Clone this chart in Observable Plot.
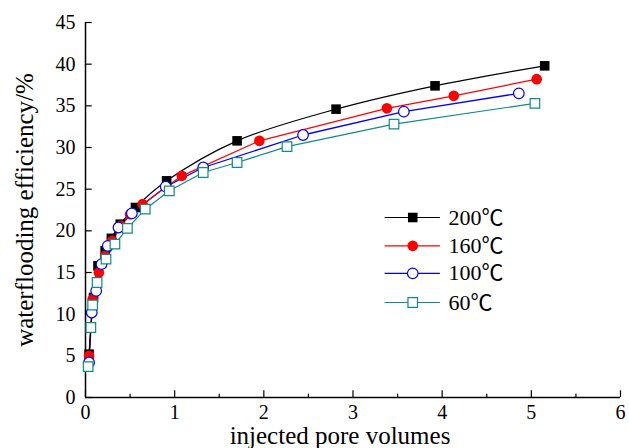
<!DOCTYPE html>
<html>
<head>
<meta charset="utf-8">
<script src="https://cdn.jsdelivr.net/npm/d3@7"></script>
<script src="https://cdn.jsdelivr.net/npm/@observablehq/plot@0.6"></script>
<style>
  html, body { margin: 0; padding: 0; background: #fff; }
  #chart { width: 629px; height: 448px; }
  #chart svg, #chart svg text { font-family: "Liberation Serif", "Times New Roman", "Noto Sans CJK SC", serif !important; }
</style>
</head>
<body>
<div id="chart"></div>
<script>
// ---- data ----
const seriesNames = ["200℃", "160℃", "100℃", "60℃"];
const seriesColors = ["#000000", "#ff0000", "#0000ff", "#108a8a"];

const pv200 = [0.04, 0.09, 0.14, 0.22, 0.29, 0.39, 0.56, 0.91, 1.70, 2.81, 3.92, 5.15];
const ef200 = [5.2, 12.0, 15.8, 17.6, 19.1, 20.8, 22.8, 26.0, 30.8, 34.6, 37.4, 39.8];

const pv160 = [0.04, 0.08, 0.15, 0.22, 0.30, 0.40, 0.50, 0.64, 1.08, 1.95, 3.38, 4.13, 5.06];
const ef160 = [5.0, 11.8, 15.0, 17.0, 18.8, 20.6, 22.0, 23.2, 26.6, 30.8, 34.7, 36.2, 38.2];

const pv100 = [0.04, 0.07, 0.12, 0.18, 0.25, 0.37, 0.52, 0.90, 1.32, 2.44, 3.57, 4.86];
const ef100 = [4.2, 10.2, 12.8, 16.0, 18.2, 20.4, 22.1, 25.3, 27.6, 31.5, 34.3, 36.5];

const pv60 = [0.03, 0.06, 0.08, 0.13, 0.23, 0.33, 0.47, 0.67, 0.94, 1.32, 1.70, 2.26, 3.46, 5.04];
const ef60 = [3.7, 8.4, 11.1, 13.8, 16.6, 18.4, 20.3, 22.6, 24.8, 27.0, 28.2, 30.1, 32.8, 35.3];

const xTicks = [0, 1, 2, 3, 4, 5, 6];
const xMinorTicks = [0.5, 1.5, 2.5, 3.5, 4.5, 5.5];
const yTicks = [0, 5, 10, 15, 20, 25, 30, 35, 40, 45];
const xLabel = "injected pore volumes";
const yLabel = "waterflooding efficiency/%";

// ---- build table ----
function rows(name, xs, ys) { return xs.map((x, i) => ({series: name, pv: x, eff: ys[i]})); }
const s200 = rows(seriesNames[0], pv200, ef200);
const s160 = rows(seriesNames[1], pv160, ef160);
const s100 = rows(seriesNames[2], pv100, ef100);
const s60  = rows(seriesNames[3], pv60, ef60);

// legend rows (placed in data space inside the frame)
const legendY = [21.6, 18.2, 14.9, 11.4];
const legend = seriesNames.map((n, i) => ({name: n, color: seriesColors[i], y: legendY[i], idx: i}));
const legX1 = 3.36, legX2 = 3.98, legXm = 3.67, legXt = 4.07;

const [c200, c160, c100, c60] = seriesColors;
const sq = 5.4, rc = 5.3;
const serif = "'Liberation Serif', 'Times New Roman', 'Noto Sans CJK SC', serif";

const chart = Plot.plot({
  width: 629,
  height: 448,
  marginLeft: 85,
  marginRight: 9,
  marginTop: 22,
  marginBottom: 51,
  style: {fontFamily: serif, background: "#fff", color: "#000"},
  x: {domain: [0, 6]},
  y: {domain: [0, 45]},
  marks: [
    // axis lines
    Plot.ruleX([0], {stroke: "#000", strokeWidth: 1.5}),
    Plot.ruleY([0], {stroke: "#000", strokeWidth: 1.5}),
    // inward ticks
    Plot.ruleX(xTicks, {x: d => d, y1: 0, y2: 0.8, stroke: "#000", strokeWidth: 1.2}),
    Plot.ruleX(xMinorTicks, {x: d => d, y1: 0, y2: 0.4, stroke: "#000", strokeWidth: 1.2}),
    Plot.ruleY(yTicks, {y: d => d, x1: 0, x2: 0.075, stroke: "#000", strokeWidth: 1.2}),
    Plot.axisX(xTicks, {tickSize: 0, tickPadding: 7, fontSize: 20, fontFamily: serif, label: null, tickFormat: d => String(d)}),
    Plot.axisY(yTicks, {tickSize: 0, tickPadding: 10, fontSize: 20, fontFamily: serif, label: null, tickFormat: d => String(d)}),
    // series lines
    Plot.line(s60, {x: "pv", y: "eff", stroke: c60, strokeWidth: 1.2}),
    Plot.line(s100, {x: "pv", y: "eff", stroke: c100, strokeWidth: 1.3}),
    Plot.line(s160, {x: "pv", y: "eff", stroke: c160, strokeWidth: 1.2}),
    Plot.line(s200, {x: "pv", y: "eff", stroke: c200, strokeWidth: 1.2, curve: "catmull-rom"}),
    // markers
    Plot.dot(s200, {x: "pv", y: "eff", symbol: "square", r: sq, fill: c200, stroke: "none"}),
    Plot.dot(s160, {x: "pv", y: "eff", symbol: "circle", r: rc, fill: c160, stroke: "none"}),
    Plot.dot(s100, {x: "pv", y: "eff", symbol: "circle", r: rc, fill: "#fff", stroke: c100, strokeWidth: 1.2}),
    Plot.dot(s60, {x: "pv", y: "eff", symbol: "square", r: sq, fill: "#fff", stroke: c60, strokeWidth: 1.2}),
    // legend
    Plot.ruleY(legend, {y: "y", x1: legX1, x2: legX2, stroke: "color", strokeWidth: 1.2}),
    Plot.dot(legend.filter(d => d.idx === 0), {x: legXm, y: "y", symbol: "square", r: sq, fill: c200}),
    Plot.dot(legend.filter(d => d.idx === 1), {x: legXm, y: "y", symbol: "circle", r: rc, fill: c160}),
    Plot.dot(legend.filter(d => d.idx === 2), {x: legXm, y: "y", symbol: "circle", r: rc, fill: "#fff", stroke: c100, strokeWidth: 1.2}),
    Plot.dot(legend.filter(d => d.idx === 3), {x: legXm, y: "y", symbol: "square", r: sq, fill: "#fff", stroke: c60, strokeWidth: 1.2}),
    Plot.text(legend, {x: legXt, y: "y", text: "name", textAnchor: "start", fontSize: 22, fontFamily: serif, fill: "#000"}),
    // axis titles
    Plot.text([yLabel], {frameAnchor: "left", textAnchor: "middle", rotate: -90, dx: -61, fontSize: 25, fontFamily: serif, fill: "#000"}),
    Plot.text([xLabel], {frameAnchor: "bottom", textAnchor: "middle", dx: -13, dy: 46, lineAnchor: "bottom", fontSize: 25, fontFamily: serif, fill: "#000"})
  ]
});
chart.style.stroke = null;
document.getElementById("chart").appendChild(chart);
</script>
</body>
</html>
